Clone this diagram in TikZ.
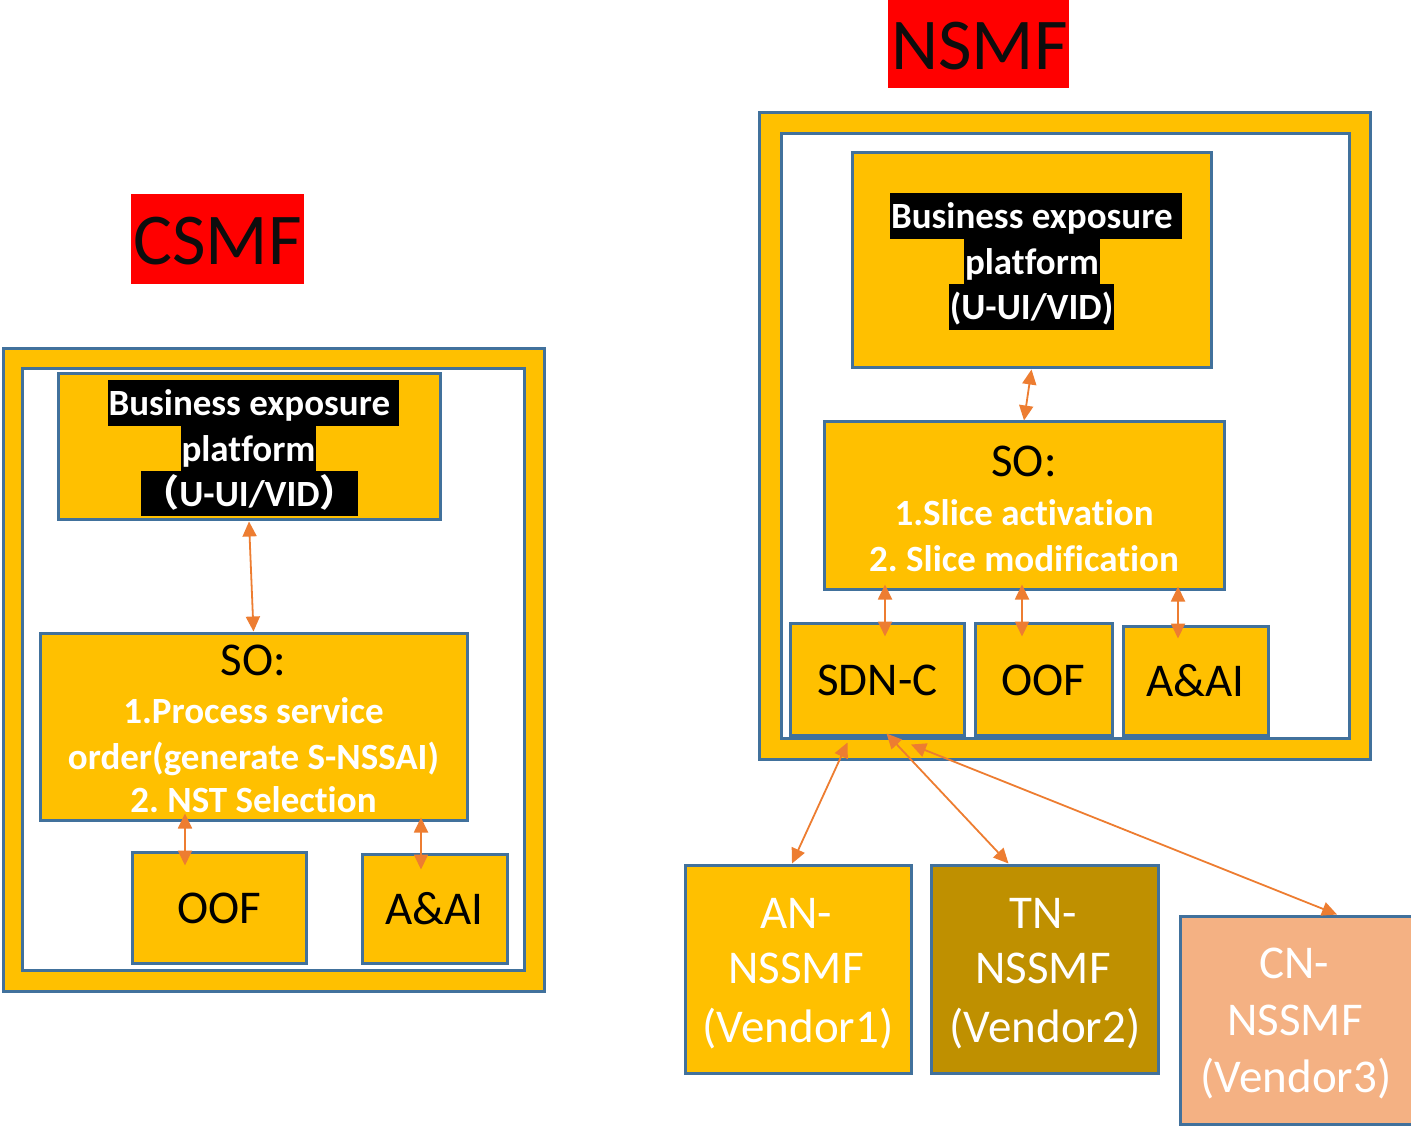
\documentclass[tikz,border=0pt]{standalone}
\usepackage{fontspec}
\setmainfont{Carlito}[Ligatures={NoCommon}]
\newfontfamily\cjk{Noto Sans CJK SC}
\usetikzlibrary{arrows.meta,fit}
\definecolor{gold}{HTML}{FFC000}
\definecolor{darkgold}{HTML}{BF9000}
\definecolor{peach}{HTML}{F4B183}
\definecolor{bord}{HTML}{41719C}
\definecolor{arrc}{HTML}{ED7D31}
\definecolor{ink}{HTML}{0D0D0D}
\frenchspacing
\begin{document}
\begin{tikzpicture}[x=0.5pt,y=-0.5pt,
  frame/.style={draw=bord, line width=1.5pt, fill=gold, inner sep=0pt},
  innerframe/.style={draw=bord, line width=1.5pt, fill=white, inner sep=0pt},
  box/.style={draw=bord, line width=1.5pt, fill=gold, inner sep=0pt},
  redbox/.style={fill=red, draw=none, inner sep=0pt},
  title/.style={font=\fontsize{36.5}{44}\selectfont, text=ink, inner sep=0pt, anchor=base},
  hl/.style={fill=black, text=white, font=\fontsize{18.5}{22.5}\selectfont\bfseries,
    inner xsep=0.5pt, inner ysep=0pt, text height=17.6pt, text depth=5pt, anchor=north},
  big/.style={font=\fontsize{23.5}{28}\selectfont, text=black, inner sep=0pt, anchor=base},
  bigw/.style={big, text=white},
  wb/.style={font=\fontsize{18.5}{22.5}\selectfont\bfseries, text=white, inner sep=0pt, anchor=base},
  arr/.style={draw=arrc, line width=0.9pt,
    {Triangle[length=7.5pt,width=7pt]}-{Triangle[length=7.5pt,width=7pt]}}
]
\useasboundingbox (0,0) rectangle (1411,1127);

% ---------- CSMF ----------
\node[redbox, fit={(131,194) (304,284)}] (csmflab) {};
\node[title] (csmft) at (217.5,265) {CSMF};

\node[frame, fit={(3,349) (544,991)}] (csmfO) {};
\node[innerframe, fit={(22,369) (524,970)}] (csmfI) {};

\node[box, fit={(58,374) (440,520)}] (bep1) {};
\node[hl] (bep1a) at (253.5,380) {Business exposure\kern4.2pt};
\node[hl] (bep1b) at (248.5,425.5) {platform};
\node[hl] (bep1c) at (249.5,470.5) {{\cjk （}U-UI/VID{\cjk ）}};

\node[box, fit={(40,633) (467,820)}] (so1) {};
\node[big] (so1t) at (253.5,675) {SO:};
\node[wb] (so1a) at (253.5,723) {1.Process service};
\node[wb] (so1b) at (253.5,769) {order(generate S-NSSAI)};
\node[wb] (so1c) at (253.5,812) {2. NST Selection};

\node[box, fit={(132,852) (306,963)}] (oof1) {};
\node[big] (oof1t) at (219.5,923) {OOF};
\node[box, fit={(362,854) (507,963)}] (aai1) {};
\node[big] (aai1t) at (434.5,924) {A\&AI};

\draw[arr] (bep1.south) -- (so1.north);
\draw[arr, shorten <=-4pt, shorten >=-7.5pt] (so1.south -| 185,0) -- (oof1.north -| 185,0);
\draw[arr, shorten <=-2pt, shorten >=-8.5pt] (so1.south -| 421,0) -- (aai1.north -| 421,0);

% ---------- NSMF ----------
\node[redbox, fit={(888,0) (1069,88)}] (nsmflab) {};
\node[title] (nsmft) at (979.5,70) {NSMF};

\node[frame, fit={(759,113) (1370,759)}] (nsmfO) {};
\node[innerframe, fit={(781,134) (1349,738)}] (nsmfI) {};

\node[box, fit={(852,153) (1211,368)}] (bep2) {};
\node[hl] (bep2a) at (1036,193) {Business exposure\kern4.2pt};
\node[hl] (bep2b) at (1032,238.5) {platform};
\node[hl] (bep2c) at (1031.5,284) {(U-UI/VID)};

\node[box, fit={(824,422) (1224,589)}] (so2) {};
\node[big] (so2t) at (1024,477) {SO:};
\node[wb] (so2a) at (1024,525) {1.Slice activation};
\node[wb] (so2b) at (1024,571) {2. Slice modification};

\node[box, fit={(790,623) (964,735)}] (sdn) {};
\node[big] (sdnt) at (877.5,695) {SDN-C};
\node[box, fit={(975,623) (1112,735)}] (oof2) {};
\node[big] (oof2t) at (1043.5,695) {OOF};
\node[box, fit={(1123,626) (1268,735)}] (aai2) {};
\node[big] (aai2t) at (1195.5,696) {A\&AI};

\draw[arr] (bep2.south) -- (so2.north);
\draw[arr, shorten <=-3pt, shorten >=-7.5pt] (so2.south -| 885,0) -- (sdn.north -| 885,0);
\draw[arr, shorten <=-3pt, shorten >=-7.5pt] (so2.south -| 1022,0) -- (oof2.north -| 1022,0);
\draw[arr, shorten <=-2pt, shorten >=-7pt] (so2.south -| 1178,0) -- (aai2.north -| 1178,0);

% ---------- NSSMFs ----------
\node[box, fit={(685,865) (911,1073)}] (an) {};
\node[bigw] (ant1) at (796,928) {AN-};
\node[bigw] (ant2) at (796,983) {NSSMF};
\node[bigw] (ant3) at (798,1042) {(Vendor1)};

\node[box, fill=darkgold, fit={(931,865) (1158,1073)}] (tn) {};
\node[bigw] (tnt1) at (1043,928) {TN-};
\node[bigw] (tnt2) at (1043,983) {NSSMF};
\node[bigw] (tnt3) at (1045,1042) {(Vendor2)};

\node[box, fill=peach, fit={(1180,916) (1412,1124)}] (cn) {};
\node[bigw] (cnt1) at (1294,978) {CN-};
\node[bigw] (cnt2) at (1295,1035) {NSSMF};
\node[bigw] (cnt3) at (1296,1092) {(Vendor3)};

\draw[arr] ([xshift=-14.75pt,yshift=-3pt]sdn.south) -- ([xshift=-3pt]an.north);
\draw[arr] ([xshift=4.75pt,yshift=1.5pt]sdn.south) -- ([xshift=-18pt]tn.north);
\draw[arr] ([xshift=17pt,yshift=-4pt]sdn.south) -- ([xshift=20.5pt]cn.north);
\end{tikzpicture}
\end{document}
